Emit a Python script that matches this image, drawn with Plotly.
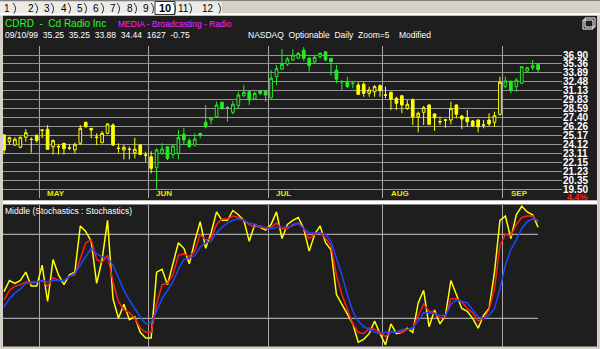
import plotly.graph_objects as go

# ---------------- data ----------------
opens = [25.22, 24.43, 24.04, 23.78, 24.95, 24.71, 25.18, 25.78, 25.91, 23.85,
         23.87, 24.24, 23.73, 23.48, 24.24, 26.79, 26.03, 24.97, 24.31, 25.42,
         26.44, 23.70, 23.48, 23.58, 23.17, 24.04, 22.94, 22.73, 21.58, 23.10,
         23.85, 22.99, 23.10, 25.30, 24.55, 24.04, 25.42, 26.79, 27.08, 27.50,
         29.47, 28.74, 28.09, 29.00, 30.39, 30.98, 29.93, 31.09, 31.09, 30.10,
         33.29, 34.51, 35.34, 36.04, 36.33, 37.76, 36.33, 35.74, 36.61, 37.47,
         36.33, 34.35, 32.53, 32.50, 32.28, 32.00, 32.10, 30.75, 30.98, 31.89,
         30.53, 30.90, 30.03, 30.39, 28.63, 29.79, 27.50, 28.09, 29.09, 27.87,
         26.89, 27.11, 27.08, 29.09, 27.59, 27.37, 26.95, 27.08, 26.46, 27.08,
         26.79, 27.83, 31.74, 32.50, 31.74, 32.25, 34.19, 34.73, 35.25]
highs = [25.34, 25.02, 24.95, 25.02, 25.94, 24.95, 25.26, 25.91, 26.44, 24.71,
         24.12, 24.31, 24.15, 24.31, 26.44, 26.86, 26.06, 25.42, 25.70, 26.66,
         26.66, 24.24, 24.04, 23.85, 24.90, 24.15, 23.28, 23.34, 23.67, 24.24,
         23.93, 24.04, 25.82, 26.10, 24.83, 25.42, 25.46, 29.09, 27.51, 29.55,
         29.55, 28.95, 29.65, 30.98, 32.00, 31.09, 30.98, 31.13, 31.24, 34.35,
         35.18, 37.93, 36.56, 37.93, 37.42, 38.33, 36.56, 36.90, 37.36, 37.59,
         36.38, 35.18, 32.76, 33.29, 32.61, 32.41, 32.41, 31.74, 32.00, 32.10,
         31.74, 30.98, 30.25, 30.50, 29.79, 30.03, 28.18, 28.95, 29.19, 27.96,
         27.50, 27.21, 29.55, 29.16, 27.72, 28.40, 27.08, 27.17, 27.08, 27.96,
         28.18, 33.29, 33.29, 32.76, 33.04, 35.01, 34.90, 36.04, 35.25]
lows = [23.02, 24.04, 23.93, 23.67, 24.43, 23.17, 24.31, 24.85, 23.48, 22.99,
        22.99, 22.99, 23.48, 23.10, 24.04, 26.15, 24.83, 24.04, 24.24, 25.30,
        23.93, 23.17, 22.45, 22.45, 22.56, 22.92, 22.20, 21.01, 19.50, 22.92,
        22.38, 22.56, 22.45, 24.04, 23.74, 23.85, 24.83, 26.03, 26.53, 27.37,
        28.40, 26.86, 27.82, 28.63, 30.25, 29.09, 29.79, 30.50, 29.55, 30.03,
        32.00, 34.35, 35.01, 35.86, 36.21, 35.86, 34.09, 35.52, 36.33, 35.86,
        33.45, 32.25, 31.24, 31.50, 31.50, 30.50, 30.25, 30.25, 30.25, 30.25,
        30.03, 28.40, 28.40, 27.96, 28.40, 26.44, 25.54, 26.44, 26.44, 25.70,
        26.44, 26.10, 26.53, 27.30, 25.94, 26.22, 26.22, 25.54, 26.03, 26.31,
        26.22, 27.64, 31.50, 30.75, 30.98, 32.15, 34.02, 34.35, 33.88]
closes = [23.48, 24.90, 24.71, 24.95, 25.49, 24.68, 24.55, 25.82, 23.56, 24.55,
          23.83, 23.63, 23.69, 24.12, 26.03, 26.22, 25.82, 24.92, 25.42, 26.57,
          24.04, 23.65, 23.78, 23.54, 23.56, 22.99, 22.89, 21.52, 23.48, 23.59,
          22.56, 23.93, 24.90, 24.62, 23.85, 24.74, 25.22, 26.22, 27.37, 29.09,
          28.63, 28.69, 29.19, 30.50, 30.90, 29.79, 30.75, 30.75, 30.50, 33.04,
          34.57, 35.29, 36.21, 36.90, 37.19, 36.33, 35.06, 36.50, 37.19, 36.04,
          35.74, 32.87, 32.47, 31.74, 32.22, 30.60, 30.75, 31.24, 31.74, 31.13,
          30.47, 29.93, 29.33, 29.09, 29.19, 27.50, 27.96, 28.71, 26.53, 27.37,
          26.84, 27.06, 28.63, 27.83, 27.21, 26.86, 26.31, 26.22, 26.41, 26.57,
          27.64, 32.41, 32.61, 31.24, 32.76, 34.90, 34.73, 35.06, 34.44]

# colour segments of the candles (first index, last index, colour)
segments = [(0, 27, "#ffff00"), (28, 64, "#22ee22"), (65, 91, "#ffff00"), (92, 98, "#22ee22")]

# stochastics (0-100)
stoch_k = [39, 47, 45, 47, 53, 43, 43, 58, 32, 62, 51, 44, 51, 53, 86, 82, 75, 45, 62, 90,
           34, 20, 30, 19, 21, 10, 6, 6, 53, 55, 44, 60, 74, 70, 59, 75, 89, 70, 81, 96,
           90, 90, 97, 94, 90, 75, 87, 85, 83, 87, 96, 77, 87, 90, 92,
           84, 68, 80, 86, 74, 69, 37, 30, 22, 16, 3, 5, 9, 18, 9, 1, 16, 9, 10, 13,
           10, 31, 40, 14, 26, 16, 22, 47, 37, 27, 25, 20, 13, 22, 27, 53, 90, 93, 77, 94,
           100, 96, 94, 85]
stoch_slow = [33, 40, 43, 44, 46, 46, 46, 47, 43, 49, 47, 47, 50, 51, 63, 74, 76, 62, 60, 65,
              46, 32, 26, 24, 20, 13, 10, 10, 30, 44, 45, 51, 65, 66, 64, 68, 80, 76, 77, 87,
              91, 91, 93, 92, 90, 87, 85, 86, 84, 85, 88, 84, 84, 87, 88,
              84, 77, 80, 81, 77, 72, 51, 37, 26, 16, 10, 9, 13, 12, 10, 7, 10, 10, 10, 12,
              13, 22, 30, 25, 24, 20, 21, 34, 34, 32, 27, 24, 18, 20, 26, 41, 72, 80, 79, 87,
              92, 93, 93, 89]
stoch_d = [28, 34, 38, 41, 45, 45, 46, 47, 46, 47, 47, 47, 50, 52, 58, 64, 70, 66, 64, 63,
           58, 49, 40, 33, 27, 21, 16, 17, 25, 34, 40, 46, 55, 62, 63, 65, 71, 74, 75, 81,
           85, 88, 90, 91, 90, 88, 87, 85, 85, 84, 85, 85, 85, 86, 88,
           84, 81, 81, 81, 80, 75, 63, 51, 37, 25, 18, 14, 12, 10, 9, 10, 10, 10, 12, 12,
           13, 18, 24, 24, 23, 22, 22, 30, 33, 32, 31, 26, 21, 20, 22, 27, 41, 58, 69, 76,
           84, 89, 91, 90]

month_labels = ["MAY", "JUN", "JUL", "AUG", "SEP"]
month_start = [7, 27, 49, 70, 92]

price_ticks = [36.90, 35.36, 33.89, 32.48, 31.13, 29.83, 28.59, 27.40, 26.26,
               25.17, 24.12, 23.11, 22.15, 21.23, 20.35, 19.50]
price_tick_text = ["36.90", "35.36", "33.89", "32.48", "31.13", "29.83", "28.59", "27.40",
                   "26.26", "25.17", "24.12", "23.11", "22.15", "21.23", "20.35", "19.50"]
stoch_levels = [80, 20]

tabs = ["1", "2", "3", "4", "5", "6", "7", "8", "9", "10", "11", "12"]
selected_tab = "10"

# ---------------- layout constants ----------------
W, H = 600, 349
BG = "#1e1e1e"
FRAME = "#d4d0c8"
FONT = "Liberation Sans, Arial, sans-serif"


def px_x(p):
    return p / W


def px_y(p):
    return 1 - p / H


fig = go.Figure()

n = len(closes)
for lo, hi, col in segments:
    idx = list(range(lo, hi + 1))
    fig.add_trace(go.Candlestick(
        x=idx,
        open=[opens[i] for i in idx], high=[highs[i] for i in idx],
        low=[lows[i] for i in idx], close=[closes[i] for i in idx],
        increasing=dict(line=dict(color=col, width=1), fillcolor=BG),
        decreasing=dict(line=dict(color=col, width=1), fillcolor=col),
        whiskerwidth=0, showlegend=False, hoverinfo="skip",
        xaxis="x", yaxis="y"))

xs = list(range(n))
for vals, col in [(stoch_k, "#ffff00"), (stoch_slow, "#ff1a1a"), (stoch_d, "#2244ff")]:
    fig.add_trace(go.Scatter(x=xs, y=vals, mode="lines", line=dict(color=col, width=1.5),
                             showlegend=False, hoverinfo="skip", xaxis="x2", yaxis="y2"))

shapes = []
# dark chart areas and white separator
shapes.append(dict(type="rect", xref="paper", yref="paper", x0=px_x(3), x1=px_x(597),
                   y0=px_y(200.5), y1=px_y(15.5), fillcolor=BG, line_width=0, layer="below"))
shapes.append(dict(type="rect", xref="paper", yref="paper", x0=px_x(3), x1=px_x(597),
                   y0=px_y(204.5), y1=px_y(200.5), fillcolor="#ffffff", line_width=0, layer="below"))
shapes.append(dict(type="rect", xref="paper", yref="paper", x0=px_x(3), x1=px_x(597),
                   y0=px_y(346.5), y1=px_y(204.5), fillcolor=BG, line_width=0, layer="below"))
# tab bar
shapes.append(dict(type="rect", xref="paper", yref="paper", x0=0, x1=1,
                   y0=px_y(15.5), y1=1, fillcolor=FRAME, line_width=0, layer="below"))
shapes.append(dict(type="rect", xref="paper", yref="paper", x0=0, x1=px_x(222),
                   y0=px_y(13.5), y1=px_y(2), fillcolor="#ecebe8", line_width=0, layer="below"))
shapes.append(dict(type="line", xref="paper", yref="paper", x0=0, x1=1,
                   y0=px_y(14.2), y1=px_y(14.2), line=dict(color="#ffffff", width=2), layer="below"))
shapes.append(dict(type="line", xref="paper", yref="paper", x0=0, x1=1,
                   y0=px_y(0.5), y1=px_y(0.5), line=dict(color="#808080", width=1), layer="below"))
# stochastic reference lines
for lv in stoch_levels:
    shapes.append(dict(type="line", xref="x2", yref="y2", x0=-0.2, x1=n - 1, y0=lv, y1=lv,
                       line=dict(color="#c8c8c8", width=1), layer="below"))
# restore icon
shapes.append(dict(type="rect", xref="paper", yref="paper", x0=px_x(583), x1=px_x(593),
                   y0=px_y(29), y1=px_y(20), line=dict(color="#ffffff", width=1), fillcolor=BG))
shapes.append(dict(type="rect", xref="paper", yref="paper", x0=px_x(585), x1=px_x(595),
                   y0=px_y(27), y1=px_y(18), line=dict(color="#ffffff", width=1),
                   fillcolor="rgba(0,0,0,0)"))

annotations = []
# tabs
tab_x = [7, 31, 46.5, 63.5, 79.5, 96, 113, 130, 145.5, 165, 183.5, 208.5]
tab_sep = [15, 37, 53, 70, 86, 103, 119, 136, 153, 175, 191, 220]
shapes.append(dict(type="rect", xref="paper", yref="paper", x0=px_x(155), x1=px_x(175),
                   y0=px_y(14.5), y1=px_y(1.5), fillcolor="#ffffff",
                   line=dict(color="#303030", width=1), layer="below"))
for t, tx in zip(tabs, tab_x):
    sel = t == selected_tab
    annotations.append(dict(x=px_x(tx), y=px_y(8.5), xref="paper", yref="paper",
                            xanchor="center", yanchor="middle",
                            text=("<b>%s</b>" % t) if sel else t, showarrow=False,
                            font=dict(family=FONT, size=11 if sel else 10, color="#000000")))
for sx in tab_sep:
    path = "M %f,%f Q %f,%f %f,%f" % (px_x(sx - 2), px_y(3), px_x(sx + 2.5), px_y(8),
                                      px_x(sx - 1), px_y(13.5))
    shapes.append(dict(type="path", xref="paper", yref="paper", path=path,
                       line=dict(color="#303030", width=1), layer="below"))

# header texts
annotations.append(dict(x=px_x(3), y=px_y(23.5), xref="paper", yref="paper",
                        xanchor="left", yanchor="middle",
                        text="CDRD  -  Cd Radio Inc", showarrow=False,
                        font=dict(family=FONT, size=10, color="#22ff22")))
annotations.append(dict(x=px_x(116), y=px_y(24.5), xref="paper", yref="paper",
                        xanchor="left", yanchor="middle",
                        text="MEDIA - Broadcasting - Radio", showarrow=False,
                        font=dict(family=FONT, size=8.5, color="#ff22ff")))
annotations.append(dict(x=px_x(3), y=px_y(34.5), xref="paper", yref="paper",
                        xanchor="left", yanchor="middle",
                        text="09/10/99  35.25  35.25  33.88  34.44  1627  -0.75",
                        showarrow=False, font=dict(family=FONT, size=8.5, color="#ffffff")))
annotations.append(dict(x=px_x(246), y=px_y(34.5), xref="paper", yref="paper",
                        xanchor="left", yanchor="middle",
                        text="NASDAQ  Optionable  Daily  Zoom=5    Modified",
                        showarrow=False, font=dict(family=FONT, size=8.5, color="#ffffff")))
# month labels
for lab, ms in zip(month_labels, month_start):
    annotations.append(dict(x=ms - 0.5, y=px_y(193.5), xref="x", yref="paper",
                            xanchor="left", yanchor="middle",
                            xshift=6, text="<b>%s</b>" % lab, showarrow=False,
                            font=dict(family=FONT, size=8, color="#e8e800")))
annotations.append(dict(x=px_x(565), y=px_y(196.5), xref="paper", yref="paper",
                        xanchor="left", yanchor="middle",
                        text="<b>4.4%</b>", showarrow=False,
                        font=dict(family=FONT, size=9, color="#ff2020")))
annotations.append(dict(x=px_x(3), y=px_y(210.5), xref="paper", yref="paper",
                        xanchor="left", yanchor="middle",
                        text="Middle (Stochastics : Stochastics)", showarrow=False,
                        font=dict(family=FONT, size=8.5, color="#ffffff")))

month_lines = [m - 0.5 for m in month_start]
x_rng = [-0.1835, 102.385]
xdom = [px_x(3), px_x(562)]

fig.update_layout(
    width=W, height=H, margin=dict(l=0, r=0, t=0, b=0),
    paper_bgcolor=FRAME, plot_bgcolor="rgba(0,0,0,0)",
    showlegend=False, shapes=shapes, annotations=annotations,
    xaxis=dict(domain=xdom, range=x_rng, tickvals=month_lines, showticklabels=False,
               showgrid=True, gridcolor="#a8a8a8", gridwidth=1, zeroline=False,
               rangeslider=dict(visible=False), anchor="y", fixedrange=True),
    yaxis=dict(domain=[px_y(198), px_y(46)], type="log", range=[1.27143, 1.58564],
               side="right", tickvals=price_ticks, ticktext=price_tick_text,
               showgrid=True, gridcolor="#959595", gridwidth=1, zeroline=False, ticks="",
               tickfont=dict(family=FONT, size=10, color="#ffffff", weight="bold"),
               anchor="x"),
    xaxis2=dict(domain=xdom, range=x_rng, tickvals=month_lines, showticklabels=False,
                showgrid=True, gridcolor="#a8a8a8", gridwidth=1, zeroline=False, anchor="y2"),
    yaxis2=dict(domain=[px_y(346.5), px_y(204.5)], range=[-0.14, 101.29], showgrid=False,
                showticklabels=False, zeroline=False, anchor="x2"),
)

fig.write_html("out.html")
